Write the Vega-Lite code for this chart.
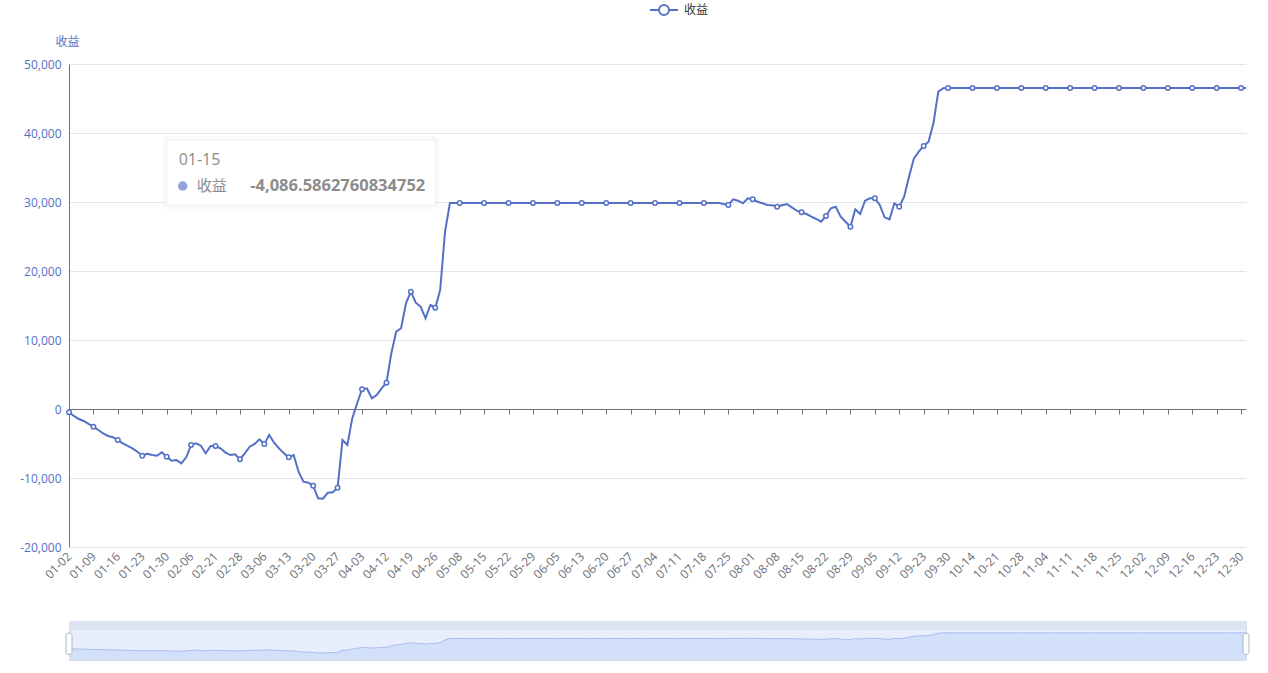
{
  "$schema": "https://vega.github.io/schema/vega-lite/v6.json",
  "autosize": {"type": "pad"},
  "padding": {"left": 19, "top": 0, "right": 22, "bottom": 8},
  "background": "white",
  "config": {"font": "Open Sans, Noto Sans CJK SC, sans-serif", "view": {"stroke": null}},
  "bounds": "flush",
  "spacing": 74,
  "datasets": {
    "main": [
      {"d":"01-02","v":-480},{"d":"01-03","v":-1010},{"d":"01-04","v":-1450},{"d":"01-05","v":-1740},{"d":"01-08","v":-2170},
      {"d":"01-09","v":-2560},{"d":"01-10","v":-3040},{"d":"01-11","v":-3520},{"d":"01-12","v":-3910},{"d":"01-15","v":-4086.5862760834752},
      {"d":"01-16","v":-4490},{"d":"01-17","v":-4970},{"d":"01-18","v":-5360},{"d":"01-19","v":-5700},{"d":"01-22","v":-6190},
      {"d":"01-23","v":-6770},{"d":"01-24","v":-6480},{"d":"01-25","v":-6670},{"d":"01-26","v":-6770},{"d":"01-29","v":-6280},
      {"d":"01-30","v":-6910},{"d":"01-31","v":-7490},{"d":"02-01","v":-7390},{"d":"02-02","v":-7870},{"d":"02-05","v":-7000},
      {"d":"02-06","v":-5220},{"d":"02-07","v":-4970},{"d":"02-08","v":-5320},{"d":"02-19","v":-6420},{"d":"02-20","v":-5360},
      {"d":"02-21","v":-5360},{"d":"02-22","v":-5700},{"d":"02-23","v":-6280},{"d":"02-26","v":-6670},{"d":"02-27","v":-6570},
      {"d":"02-28","v":-7290},{"d":"02-29","v":-6420},{"d":"03-01","v":-5460},{"d":"03-04","v":-5070},{"d":"03-05","v":-4390},
      {"d":"03-06","v":-5070},{"d":"03-07","v":-3770},{"d":"03-08","v":-4880},{"d":"03-11","v":-5700},{"d":"03-12","v":-6420},
      {"d":"03-13","v":-7000},{"d":"03-14","v":-6670},{"d":"03-15","v":-9090},{"d":"03-18","v":-10540},{"d":"03-19","v":-10680},
      {"d":"03-20","v":-11120},{"d":"03-21","v":-12940},{"d":"03-22","v":-13000},{"d":"03-25","v":-12130},{"d":"03-26","v":-12070},
      {"d":"03-27","v":-11410},{"d":"03-28","v":-4490},{"d":"03-29","v":-5220},{"d":"04-01","v":-1360},{"d":"04-02","v":830},
      {"d":"04-03","v":2860},{"d":"04-08","v":3000},{"d":"04-09","v":1550},{"d":"04-10","v":2030},{"d":"04-11","v":3000},
      {"d":"04-12","v":3810},{"d":"04-15","v":8070},{"d":"04-16","v":11200},{"d":"04-17","v":11700},{"d":"04-18","v":15320},
      {"d":"04-19","v":17000},{"d":"04-22","v":15410},{"d":"04-23","v":14830},{"d":"04-24","v":13140},{"d":"04-25","v":15070},
      {"d":"04-26","v":14680},{"d":"04-29","v":17250},{"d":"04-30","v":25700},
      {"d":"05-06","v":29870},{"d":"05-07","v":29870},{"d":"05-08","v":29870},{"d":"05-09","v":29870},{"d":"05-10","v":29870},
      {"d":"05-13","v":29870},{"d":"05-14","v":29870},{"d":"05-15","v":29870},{"d":"05-16","v":29870},{"d":"05-17","v":29870},
      {"d":"05-20","v":29870},{"d":"05-21","v":29870},{"d":"05-22","v":29870},{"d":"05-23","v":29870},{"d":"05-24","v":29870},
      {"d":"05-27","v":29870},{"d":"05-28","v":29870},{"d":"05-29","v":29870},{"d":"05-30","v":29870},{"d":"05-31","v":29870},
      {"d":"06-03","v":29870},{"d":"06-04","v":29870},{"d":"06-05","v":29870},{"d":"06-06","v":29870},{"d":"06-07","v":29870},
      {"d":"06-11","v":29870},{"d":"06-12","v":29870},{"d":"06-13","v":29870},{"d":"06-14","v":29870},{"d":"06-17","v":29870},
      {"d":"06-18","v":29870},{"d":"06-19","v":29870},{"d":"06-20","v":29870},{"d":"06-21","v":29870},{"d":"06-24","v":29870},
      {"d":"06-25","v":29870},{"d":"06-26","v":29870},{"d":"06-27","v":29870},{"d":"06-28","v":29870},
      {"d":"07-01","v":29870},{"d":"07-02","v":29870},{"d":"07-03","v":29870},{"d":"07-04","v":29870},{"d":"07-05","v":29870},
      {"d":"07-08","v":29870},{"d":"07-09","v":29870},{"d":"07-10","v":29870},{"d":"07-11","v":29870},{"d":"07-12","v":29870},
      {"d":"07-15","v":29870},{"d":"07-16","v":29870},{"d":"07-17","v":29870},{"d":"07-18","v":29870},{"d":"07-19","v":29870},
      {"d":"07-22","v":29870},{"d":"07-23","v":29870},{"d":"07-24","v":29710},{"d":"07-25","v":29570},{"d":"07-26","v":30390},
      {"d":"07-29","v":30190},{"d":"07-30","v":29810},{"d":"07-31","v":30540},
      {"d":"08-01","v":30390},{"d":"08-02","v":30040},{"d":"08-05","v":29810},{"d":"08-06","v":29570},{"d":"08-07","v":29520},
      {"d":"08-08","v":29320},{"d":"08-09","v":29520},{"d":"08-12","v":29710},{"d":"08-13","v":29230},{"d":"08-14","v":28740},
      {"d":"08-15","v":28510},{"d":"08-16","v":28260},{"d":"08-19","v":27870},{"d":"08-20","v":27540},{"d":"08-21","v":27140},
      {"d":"08-22","v":27970},{"d":"08-23","v":29090},{"d":"08-26","v":29320},{"d":"08-27","v":27870},{"d":"08-28","v":27140},
      {"d":"08-29","v":26420},{"d":"08-30","v":28940},
      {"d":"09-02","v":28260},{"d":"09-03","v":30190},{"d":"09-04","v":30540},{"d":"09-05","v":30540},{"d":"09-06","v":29570},
      {"d":"09-09","v":27780},{"d":"09-10","v":27490},{"d":"09-11","v":29810},{"d":"09-12","v":29320},{"d":"09-13","v":30770},
      {"d":"09-18","v":33670},{"d":"09-19","v":36330},{"d":"09-20","v":37290},{"d":"09-23","v":38120},{"d":"09-24","v":38740},
      {"d":"09-25","v":41410},{"d":"09-26","v":45990},{"d":"09-27","v":46480},{"d":"09-30","v":46520},
      {"d":"10-08","v":46520},{"d":"10-09","v":46520},{"d":"10-10","v":46520},{"d":"10-11","v":46520},{"d":"10-14","v":46520},
      {"d":"10-15","v":46520},{"d":"10-16","v":46520},{"d":"10-17","v":46520},{"d":"10-18","v":46520},{"d":"10-21","v":46520},
      {"d":"10-22","v":46520},{"d":"10-23","v":46520},{"d":"10-24","v":46520},{"d":"10-25","v":46520},{"d":"10-28","v":46520},
      {"d":"10-29","v":46520},{"d":"10-30","v":46520},{"d":"10-31","v":46520},
      {"d":"11-01","v":46520},{"d":"11-04","v":46520},{"d":"11-05","v":46520},{"d":"11-06","v":46520},{"d":"11-07","v":46520},
      {"d":"11-08","v":46520},{"d":"11-11","v":46520},{"d":"11-12","v":46520},{"d":"11-13","v":46520},{"d":"11-14","v":46520},
      {"d":"11-15","v":46520},{"d":"11-18","v":46520},{"d":"11-19","v":46520},{"d":"11-20","v":46520},{"d":"11-21","v":46520},
      {"d":"11-22","v":46520},{"d":"11-25","v":46520},{"d":"11-26","v":46520},{"d":"11-27","v":46520},{"d":"11-28","v":46520},
      {"d":"11-29","v":46520},
      {"d":"12-02","v":46520},{"d":"12-03","v":46520},{"d":"12-04","v":46520},{"d":"12-05","v":46520},{"d":"12-06","v":46520},
      {"d":"12-09","v":46520},{"d":"12-10","v":46520},{"d":"12-11","v":46520},{"d":"12-12","v":46520},{"d":"12-13","v":46520},
      {"d":"12-16","v":46520},{"d":"12-17","v":46520},{"d":"12-18","v":46520},{"d":"12-19","v":46520},{"d":"12-20","v":46520},
      {"d":"12-23","v":46520},{"d":"12-24","v":46520},{"d":"12-25","v":46520},{"d":"12-26","v":46520},{"d":"12-27","v":46520},
      {"d":"12-30","v":46520},{"d":"12-31","v":46520}
    ]
  },
  "vconcat": [
    {
      "width": 1177,
      "height": 483,
      "data": {"name": "main"},
      "encoding": {
        "x": {
          "field": "d", "type": "ordinal", "sort": null,
          "scale": {"type": "point", "padding": 0},
          "axis": {
            "values": ["01-02","01-09","01-16","01-23","01-30","02-06","02-21","02-28","03-06","03-13","03-20","03-27","04-03","04-12","04-19","04-26","05-08","05-15","05-22","05-29","06-05","06-13","06-20","06-27","07-04","07-11","07-18","07-25","08-01","08-08","08-15","08-22","08-29","09-05","09-12","09-23","09-30","10-14","10-21","10-28","11-04","11-11","11-18","11-25","12-02","12-09","12-16","12-23","12-30"],
            "title": null, "grid": false,
            "offset": -138,
            "domainColor": "#6e7079", "tickColor": "#6e7079", "tickSize": 5,
            "labelAngle": -45, "labelAlign": "right", "labelBaseline": "middle",
            "labelPadding": 140, "labelColor": "#6e7079", "labelFontSize": 12,
            "labelOverlap": false, "labelBound": false
          }
        },
        "y": {
          "field": "v", "type": "quantitative",
          "scale": {"domain": [-20000, 50000], "nice": false, "zero": false},
          "axis": {
            "values": [-20000, -10000, 0, 10000, 20000, 30000, 40000, 50000],
            "labelExpr": "replace(format(datum.value, ','), '\u2212', '-')",
            "title": "收益", "titleAngle": 0, "titleX": -2, "titleY": -19,
            "titleAlign": "center", "titleBaseline": "alphabetic",
            "titleColor": "#5470c6", "titleFontSize": 12, "titleFontWeight": "normal",
            "labelColor": "#5470c6", "labelFontSize": 12, "labelPadding": 8,
            "ticks": false, "domainColor": "#5470c6", "gridColor": "#e0e6f1"
          }
        }
      },
      "layer": [
        {
          "mark": {"type": "line", "strokeWidth": 2},
          "encoding": {
            "color": {
              "datum": "收益", "type": "nominal",
              "scale": {"range": ["#5470c6"]},
              "legend": {
                "orient": "none", "legendX": 585, "legendY": -64, "title": null,
                "symbolType": "M-1.556,0L-0.556,0M0.556,0L1.556,0M-0.556,0A0.556,0.556,0,1,1,0.556,0A0.556,0.556,0,1,1,-0.556,0Z",
                "symbolSize": 324, "symbolStrokeWidth": 2, "symbolStrokeColor": "#5470c6",
                "symbolFillColor": "white",
                "labelFontSize": 12, "labelColor": "#333333", "labelOffset": 10,
                "encode": {"symbols": {"update": {"fill": {"value": "white"}, "stroke": {"value": "#5470c6"}, "opacity": {"value": 1}}}}
              }
            }
          }
        },
        {
          "transform": [
            {"window": [{"op": "row_number", "as": "rn"}]},
            {"filter": "(datum.rn - 1) % 5 == 0"}
          ],
          "mark": {"type": "point", "shape": "circle", "filled": true, "fill": "white", "stroke": "#5470c6", "strokeWidth": 1.5, "size": 20, "opacity": 1}
        },
        {
          "transform": [
            {"window": [{"op": "row_number", "as": "rn"}]},
            {"filter": "datum.rn >= 21 && datum.rn <= 76"}
          ],
          "mark": {"type": "area", "fill": "white", "stroke": "#000000", "strokeOpacity": 0.025, "strokeWidth": 8, "opacity": 1, "strokeJoin": "round"},
          "encoding": {"y": {"datum": 39000, "type": "quantitative"}, "y2": {"datum": 29570}}
        },
        {
          "transform": [
            {"window": [{"op": "row_number", "as": "rn"}]},
            {"filter": "datum.rn >= 21 && datum.rn <= 76"}
          ],
          "mark": {"type": "area", "fill": "white", "stroke": "#eeeeee", "strokeWidth": 1, "opacity": 1},
          "encoding": {"y": {"datum": 39000, "type": "quantitative"}, "y2": {"datum": 29570}}
        },
        {
          "transform": [{"filter": "datum.d == '01-30'"}],
          "mark": {"type": "text", "align": "left", "baseline": "middle", "dx": 12, "fontSize": 16, "color": "#8c8c8c", "text": "01-15"},
          "encoding": {"y": {"datum": 36090, "type": "quantitative"}}
        },
        {
          "transform": [{"filter": "datum.d == '01-30'"}],
          "mark": {"type": "point", "shape": "circle", "filled": true, "color": "#91a3df", "size": 90, "xOffset": 16, "opacity": 1},
          "encoding": {"y": {"datum": 32320, "type": "quantitative"}}
        },
        {
          "transform": [{"filter": "datum.d == '01-30'"}],
          "mark": {"type": "text", "align": "left", "baseline": "middle", "dx": 30, "fontSize": 15, "color": "#8c8c8c", "text": "收益"},
          "encoding": {"y": {"datum": 32320, "type": "quantitative"}}
        },
        {
          "transform": [{"filter": "datum.d == '04-26'"}],
          "mark": {"type": "text", "align": "right", "baseline": "middle", "dx": -10, "fontSize": 16.5, "fontWeight": "bold", "color": "#8c8c8c", "text": "-4,086.5862760834752"},
          "encoding": {"y": {"datum": 32320, "type": "quantitative"}}
        }
      ]
    },
    {
      "width": 1177,
      "height": 39,
      "view": {"fill": "#e8eefc", "stroke": "#d2dbee"},
      "data": {"name": "main"},
      "encoding": {
        "x": {"field": "d", "type": "ordinal", "sort": null, "scale": {"type": "point", "padding": 0}, "axis": null}
      },
      "layer": [
        {
          "mark": {"type": "area", "color": "#dde3f3", "opacity": 1},
          "encoding": {
            "y": {"datum": 81700, "type": "quantitative", "scale": {"domain": [-34000, 81700], "nice": false, "zero": false}, "axis": null},
            "y2": {"datum": 55000}
          }
        },
        {
          "mark": {"type": "area", "color": "#d3e0fa", "opacity": 1, "line": {"color": "#a9bef0", "strokeWidth": 1}},
          "encoding": {
            "y": {"field": "v", "type": "quantitative", "axis": null},
            "y2": {"datum": -34000}
          }
        },
        {
          "data": {"values": [{"d": "01-02"}, {"d": "12-31"}]},
          "mark": {"type": "tick", "orient": "vertical", "thickness": 6, "size": 21, "color": "white", "stroke": "#aab6c6", "strokeWidth": 1, "cornerRadius": 2, "opacity": 1},
          "encoding": {
            "y": {"datum": 14000, "type": "quantitative"}
          }
        }
      ],
      "resolve": {"scale": {"y": "shared"}}
    }
  ]
}
